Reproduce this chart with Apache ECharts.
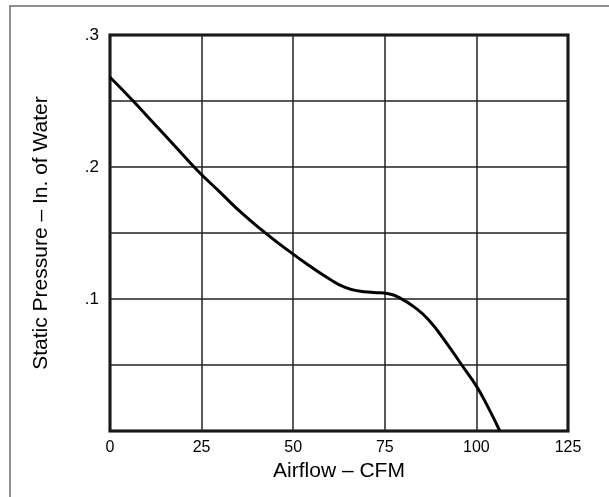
<!DOCTYPE html>
<html>
<head>
<meta charset="utf-8">
<script src="https://cdn.jsdelivr.net/npm/echarts@6/dist/echarts.min.js"></script>
<style>html,body{margin:0;padding:0;background:#fff}#c{width:609px;height:497px}</style>
</head>
<body>
<div id="c"></div>
<script>
var airflow  = [0, 6, 12, 18, 24, 30, 36, 42, 48, 54, 60, 64, 68, 72, 76, 79, 83, 87, 92, 96, 100, 103, 106.4];
var pressure = [0.268, 0.251, 0.233, 0.215, 0.197, 0.181, 0.165, 0.151, 0.138, 0.126, 0.115, 0.109, 0.106, 0.105, 0.104, 0.101, 0.094, 0.084, 0.066, 0.050, 0.034, 0.019, 0.0];
var xTicks = [0, 25, 50, 75, 100, 125];
var yLabelValues = [0.1, 0.2, 0.3];
var xTitle = 'Airflow – CFM';
var yTitle = 'Static Pressure – In. of Water';

var font = '"Liberation Sans", Arial, Helvetica, sans-serif';
var chart = echarts.init(document.getElementById('c'), null, {renderer: 'canvas'});
var pts = airflow.map(function (x, i) { return [x, pressure[i]]; });
chart.setOption({
  animation: false,
  backgroundColor: '#fff',
  graphic: [{
    type: 'rect', silent: true, z: -1,
    shape: {x: 10, y: 6, width: 640, height: 540},
    style: {fill: 'none', stroke: '#6b6b6b', lineWidth: 1.5}
  }],
  grid: {left: 110, right: 41, top: 35, bottom: 66, show: true, borderColor: '#000', borderWidth: 3},
  xAxis: {
    type: 'value', min: xTicks[0], max: xTicks[xTicks.length - 1], interval: 25,
    name: xTitle, nameLocation: 'middle', nameGap: 28,
    nameTextStyle: {fontFamily: font, fontSize: 21, color: '#000'},
    axisLine: {show: false}, axisTick: {show: false},
    axisLabel: {fontFamily: font, fontSize: 16, color: '#000', margin: 9},
    splitLine: {show: true, lineStyle: {color: '#222', width: 1.5}}
  },
  yAxis: {
    type: 'value', min: 0, max: 0.3, interval: 0.05,
    name: yTitle, nameLocation: 'middle', nameGap: 58, nameRotate: 90,
    nameTextStyle: {fontFamily: font, fontSize: 21, color: '#000'},
    axisLine: {show: false}, axisTick: {show: false},
    axisLabel: {
      fontFamily: font, fontSize: 17, color: '#000', margin: 11,
      formatter: function (v) {
        for (var i = 0; i < yLabelValues.length; i++) {
          if (Math.abs(v - yLabelValues[i]) < 1e-6) return String(yLabelValues[i]).replace(/^0/, '');
        }
        return '';
      }
    },
    splitLine: {show: true, lineStyle: {color: '#222', width: 1.5}}
  },
  series: [{
    type: 'line', data: pts, smooth: 0.5, showSymbol: false, clip: true,
    lineStyle: {color: '#000', width: 3}
  }]
});
</script>
</body>
</html>
